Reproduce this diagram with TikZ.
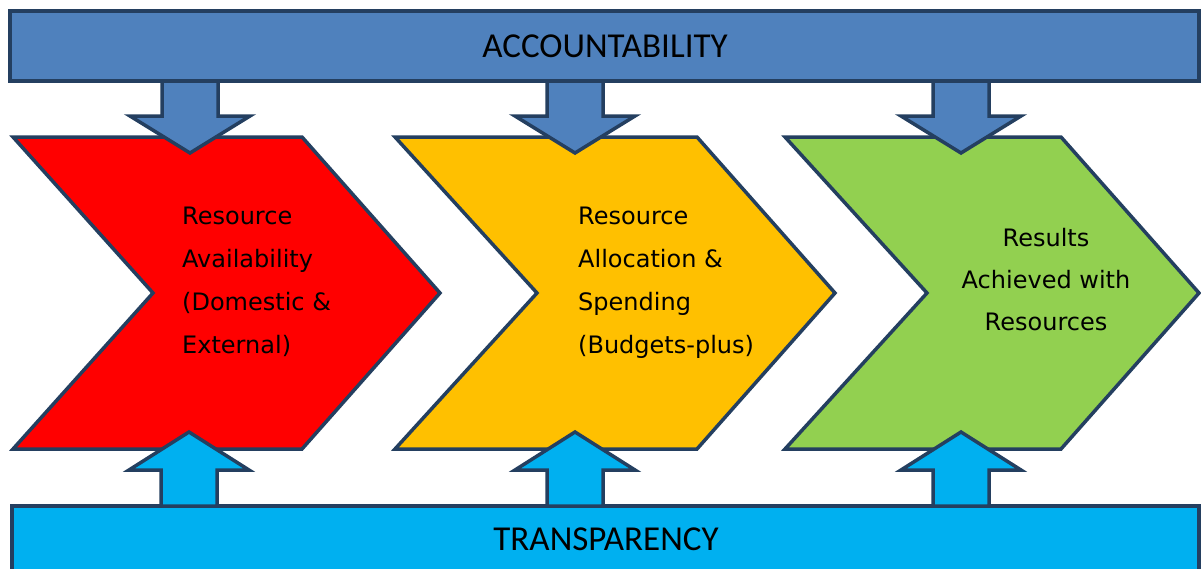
\documentclass[tikz,border=0pt]{standalone}
\usepackage{fontspec}
\setmainfont{Carlito}
\newfontfamily\chevfont{DejaVu Sans}
\definecolor{accblue}{HTML}{4F81BD}
\definecolor{edgeblue}{HTML}{243F60}
\definecolor{trcyan}{HTML}{00B0F0}
\definecolor{resred}{HTML}{FF0000}
\definecolor{resorange}{HTML}{FFC000}
\definecolor{resgreen}{HTML}{92D050}
\begin{document}
\begin{tikzpicture}[x=1pt,y=-1pt,
  shapeline/.style={draw=edgeblue,line width=3.5pt,line join=miter},
  bartext/.style={font=\fontsize{35}{40}\selectfont,text=black,inner sep=0pt,anchor=base},
  chevtext/.style={font=\chevfont\fontsize{24}{43}\selectfont,text=black,inner sep=0pt}
]
\clip (0,0) rectangle (1201,568);
\fill[white] (0,0) rectangle (1201,568);

% bars
\draw[shapeline,fill=accblue] (10,11) rectangle (1199,81);
\draw[shapeline,fill=trcyan] (12,506) rectangle (1199,590);
\node[bartext] (acc) at (605,57) {ACCOUNTABILITY};
\node[bartext] (tra) at (606,550) {TRANSPARENCY};

% chevrons
\draw[shapeline,fill=resred] (13,137) -- (302,137) -- (440,293) -- (302,449) -- (13,449) -- (153,293) -- cycle;
\draw[shapeline,fill=resorange] (395,137) -- (697,137) -- (835,293) -- (697,449) -- (395,449) -- (537,293) -- cycle;
\draw[shapeline,fill=resgreen] (785,137) -- (1061,137) -- (1199,293) -- (1061,449) -- (785,449) -- (927,293) -- cycle;

% down arrows from accountability
\foreach \cx in {190,575,961}{
  \draw[shapeline,fill=accblue] (\cx-28,81) -- (\cx+28,81) -- (\cx+28,116) -- (\cx+60,116) -- (\cx,153) -- (\cx-60,116) -- (\cx-28,116) -- cycle;
}
% up arrows from transparency
\foreach \cx in {189,575,961}{
  \draw[shapeline,fill=trcyan] (\cx-28,506) -- (\cx+28,506) -- (\cx+28,470) -- (\cx+60,470) -- (\cx,432) -- (\cx-60,470) -- (\cx-28,470) -- cycle;
}

% chevron texts
\node[chevtext,align=left,anchor=north west] (t1) at (182,207) {Resource\\Availability\\(Domestic \&\\External)};
\node[chevtext,align=left,anchor=north west] (t2) at (578,207) {Resource\\Allocation \&\\Spending\\(Budgets-plus)};
\node[chevtext,align=center,anchor=north,font=\chevfont\fontsize{24}{42}\selectfont] (t3) at (1046,228) {Results\\Achieved with\\Resources};
\end{tikzpicture}
\end{document}
